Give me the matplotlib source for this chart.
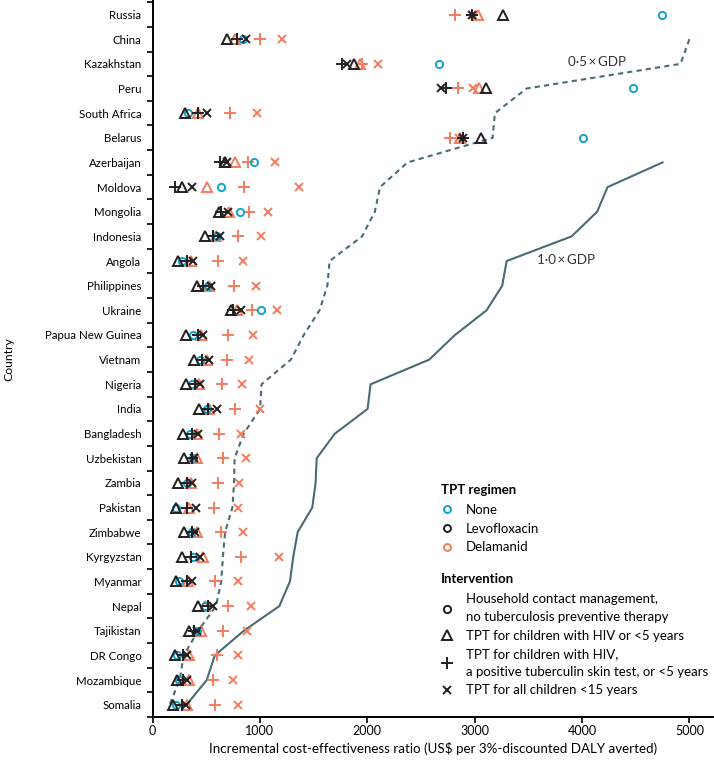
import numpy as np
import matplotlib
matplotlib.use("Agg")
import matplotlib.pyplot as plt
from matplotlib.lines import Line2D

plt.rcParams['font.family'] = ['Lato', 'DejaVu Sans']

countries = ['Russia', 'China', 'Kazakhstan', 'Peru', 'South Africa', 'Belarus',
             'Azerbaijan', 'Moldova', 'Mongolia', 'Indonesia', 'Angola', 'Philippines',
             'Ukraine', 'Papua New Guinea', 'Vietnam', 'Nigeria', 'India', 'Bangladesh',
             'Uzbekistan', 'Zambia', 'Pakistan', 'Zimbabwe', 'Kyrgyzstan', 'Myanmar',
             'Nepal', 'Tajikistan', 'DR Congo', 'Mozambique', 'Somalia']

# GDP per capita (US$) used for the thresholds
gdp_per_capita = [11500, 10000, 9836, 6968, 6378, 6334, 4750, 4238, 4141, 3903, 3298,
                  3257, 3111, 2817, 2577, 2031, 2003, 1699, 1529, 1519, 1488, 1352,
                  1311, 1280, 1181, 850, 580, 505, 318]

# ICERs: household contact management, no TPT
none_hcm = [4741, 846, 2667, 4476, 333, 4011, 948, 635, 815, 597, 271, 520, 1007, 380,
            442, 365, 511, 349, 380, 324, 219, 371, 374, 250, 489, 411, 231, 250, 219]

# levofloxacin
levo_hiv5 = [3266, 697, 1876, 3105, 303, 3059, 675, 278, 622, 489, 240, 411, 731, 312,
             389, 312, 436, 287, 296, 240, 219, 293, 272, 219, 427, 343, 210, 225, 188]
levo_tst = [2972, 790, 1767, 2733, 427, 2888, 628, 209, 635, 566, 324, 473, 746, 420,
            458, 396, 520, 365, 365, 318, 318, 365, 355, 318, 520, 390, 287, 287, 272]
levo_all = [2972, 870, 1808, 2690, 504, 2888, 697, 365, 706, 628, 380, 544, 822, 473,
            529, 442, 597, 420, 390, 365, 405, 396, 442, 365, 566, 411, 324, 324, 312]

# delamanid
dela_hiv5 = [3033, 770, 1932, 3040, 427, 2863, 768, 511, 716, 590, 355, 529, 790, 448,
             511, 436, 529, 411, 417, 355, 340, 411, 473, 327, 489, 448, 343, 343, 318]
dela_tst = [2816, 1001, 1953, 2847, 722, 2770, 892, 855, 898, 799, 613, 759, 929, 706,
            697, 644, 768, 622, 653, 607, 575, 638, 824, 582, 706, 659, 597, 560, 582]
dela_all = [2987, 1209, 2099, 2987, 976, 2850, 1140, 1364, 1072, 1007, 839, 964, 1156, 933,
            895, 830, 1001, 821, 867, 808, 799, 845, 1178, 793, 914, 877, 799, 753, 799]

blue = '#12a3cb'
orange = '#f47c5e'
black = '#231f20'
line_col = '#4a6a76'

y = np.arange(len(countries))
gdp = np.array(gdp_per_capita, dtype=float)
half = np.where(0.5 * gdp <= 5000, 0.5 * gdp, np.nan)
full = np.where(gdp <= 5000, gdp, np.nan)

fig = plt.figure(figsize=(7.14, 7.65), dpi=100)
ax = fig.add_axes([0.2136, 0.0627, 0.785, 0.936])

ax.plot(half, y, color=line_col, lw=1.5, ls=(0, (2.5, 2)), zorder=1)
ax.plot(full, y, color=line_col, lw=1.5, zorder=1)
ax.text(3870, 1.92, '0·5\u2009×\u2009GDP', fontsize=9.6, ha='left', va='center', color='#333333')
ax.text(3580, 9.97, '1·0\u2009×\u2009GDP', fontsize=9.6, ha='left', va='center', color='#333333')

kw_o = dict(marker='o', ms=5.2, mew=1.4, mfc='none', ls='none')
kw_t = dict(marker='^', ms=7.5, mew=1.4, mfc='none', ls='none')
kw_p = dict(marker='+', ms=8, mew=1.4, ls='none')
kw_x = dict(marker='x', ms=6, mew=1.4, ls='none')

ax.plot(dela_tst, y, color=orange, zorder=3, **kw_p)
ax.plot(dela_all, y, color=orange, zorder=3, **kw_x)
ax.plot(dela_hiv5, y, color=orange, zorder=3, **kw_t)
ax.plot(none_hcm, y, color=blue, zorder=4, **kw_o)
ax.plot(levo_tst, y, color=black, zorder=5, **kw_p)
ax.plot(levo_all, y, color=black, zorder=5, **kw_x)
ax.plot(levo_hiv5, y, color=black, zorder=5, **kw_t)

ax.set_xlim(0, 5220)
ax.set_ylim(27.5, -0.55)
ax.set_xticks([0, 1000, 2000, 3000, 4000, 5000])
ax.set_yticks(y)
ax.set_yticklabels(countries)
ax.set_yticks(np.arange(-0.5, len(countries), 1), minor=True)
ax.tick_params(axis='y', which='major', length=0, pad=8, labelsize=8.3)
ax.tick_params(axis='y', which='minor', length=4, width=1.2)
ax.tick_params(axis='x', length=4, width=1.2, labelsize=9, pad=2)
for s in ['top', 'right']:
    ax.spines[s].set_visible(False)
for s in ['left', 'bottom']:
    ax.spines[s].set_linewidth(1.4)
ax.set_xlabel('Incremental cost-effectiveness ratio (US$ per 3%-discounted DALY averted)',
              fontsize=9.6, labelpad=3)
ax.set_ylabel('Country', fontsize=8.8)
ax.yaxis.set_label_coords(-0.246, 0.5)

# legends
leg_kw = dict(loc='upper left', frameon=False, alignment='left', fontsize=9.5,
              title_fontproperties={'weight': 'bold', 'size': 9.5},
              handlelength=1.0, handletextpad=0.9, labelspacing=0.5, borderpad=0,
              borderaxespad=0)
h1 = [Line2D([], [], color=c, marker='o', ms=5, mew=1.4, mfc='none', ls='none')
      for c in [blue, black, orange]]
leg1 = ax.legend(h1, ['None', 'Levofloxacin', 'Delamanid'], title='TPT regimen',
                 bbox_to_anchor=(0.514, 0.326), **leg_kw)
ax.add_artist(leg1)
h2 = [Line2D([], [], color=black, ls='none', **{k: v for k, v in kw.items() if k != 'ls'})
      for kw in [kw_o, kw_t, kw_p, kw_x]]
leg2 = ax.legend(h2, ['Household contact management,\nno tuberculosis preventive therapy',
                      'TPT for children with HIV or <5 years',
                      'TPT for children with HIV,\na positive tuberculin skin test, or <5 years',
                      'TPT for all children <15 years'],
                 title='Intervention', bbox_to_anchor=(0.514, 0.201), **leg_kw)
for leg in (leg1, leg2):
    leg._legend_box.sep = 6
    for t in leg.get_texts():
        t.set_linespacing(1.55)

fig.savefig('out.png', dpi=100)
